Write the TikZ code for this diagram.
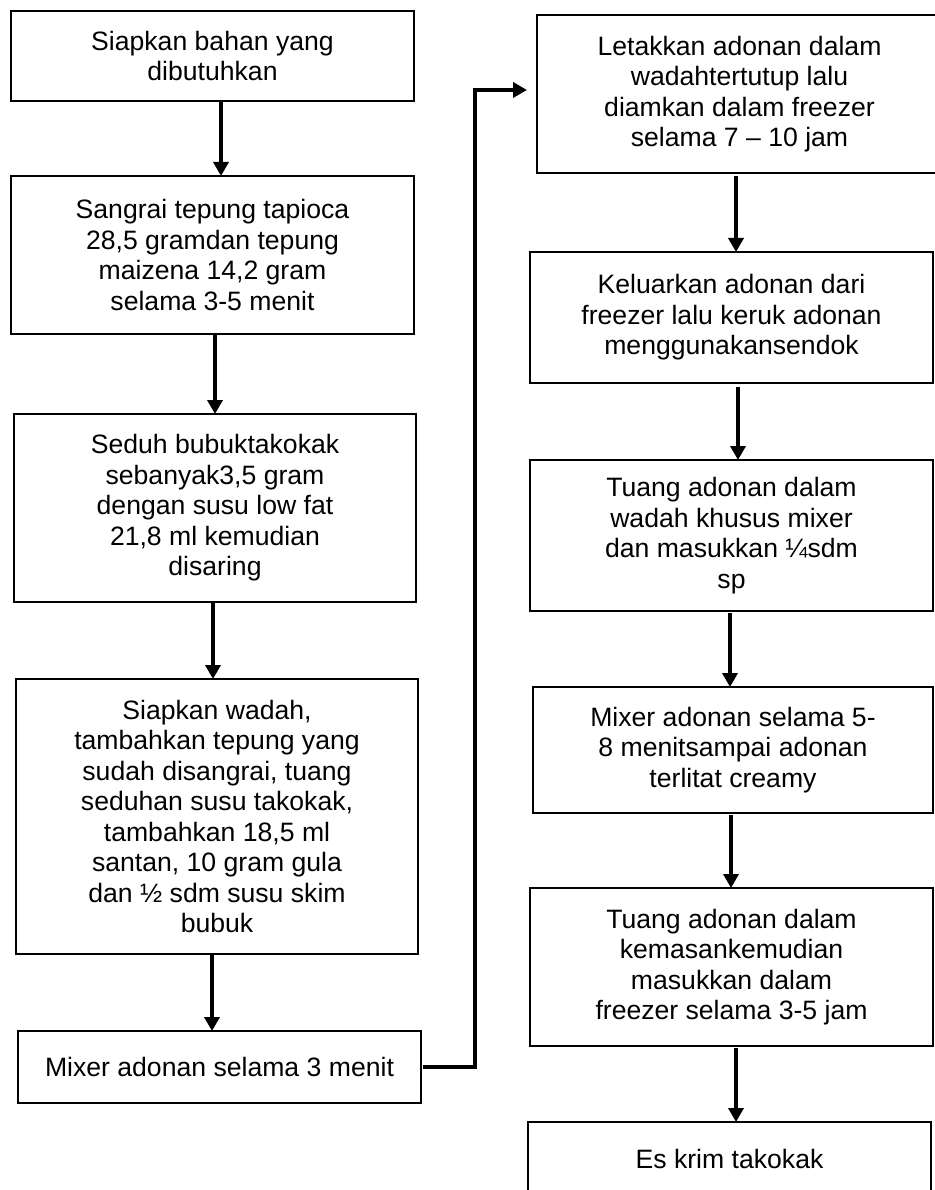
\documentclass[tikz,border=0pt]{standalone}
\usepackage{fontspec}
\setmainfont{Liberation Sans}
\usetikzlibrary{arrows.meta}
\begin{document}
\begin{tikzpicture}[x=1pt,y=-1pt,
  box/.style={draw=black, line width=2.2pt, inner sep=0pt, outer sep=0pt, align=center,
    font=\fontsize{26.6}{30.5}\selectfont},
  arr/.style={line width=4pt, line join=miter, -{Triangle[width=15pt,length=14pt]}}]
\useasboundingbox (0,0) rectangle (934,1190);
\fill[white] (0,0) rectangle (934,1190);
% left column
\node[box, minimum width=403pt, minimum height=90pt] (b1) at (212.5,56)
  {Siapkan bahan yang\\dibutuhkan};
\node[box, minimum width=403pt, minimum height=158pt] (b2) at (212.5,255)
  {Sangrai tepung tapioca\\28,5 gramdan tepung\\maizena 14,2 gram\\selama 3-5 menit};
\node[box, minimum width=402pt, minimum height=188pt] (b3) at (215,508)
  {Seduh bubuktakokak\\sebanyak3,5 gram\\dengan susu low fat\\21,8 ml kemudian\\disaring};
\node[box, minimum width=402pt, minimum height=275pt] (b4) at (217,816.5)
  {Siapkan wadah,\\tambahkan tepung yang\\sudah disangrai, tuang\\seduhan susu takokak,\\tambahkan 18,5 ml\\santan, 10 gram gula\\dan ½ sdm susu skim\\bubuk};
\node[box, minimum width=403pt, minimum height=72pt] (b5) at (219.5,1067)
  {Mixer adonan selama 3 menit};
% right column
\node[box, minimum width=405pt, minimum height=158pt] (r1) at (739.5,94)
  {Letakkan adonan dalam\\wadahtertutup lalu\\diamkan dalam freezer\\selama 7 – 10 jam};
\node[box, minimum width=403pt, minimum height=131pt] (r2) at (731.5,317.5)
  {Keluarkan adonan dari\\freezer lalu keruk adonan\\menggunakansendok};
\node[box, minimum width=403pt, minimum height=151pt] (r3) at (731.5,535.5)
  {Tuang adonan dalam\\wadah khusus mixer\\dan masukkan ¼sdm\\sp};
\node[box, minimum width=400pt, minimum height=126pt] (r4) at (733,750)
  {Mixer adonan selama 5-\\8 menitsampai adonan\\terlitat creamy};
\node[box, minimum width=403pt, minimum height=158pt] (r5) at (731.5,967)
  {Tuang adonan dalam\\kemasankemudian\\masukkan dalam\\freezer selama 3-5 jam};
\node[box, minimum width=403pt, minimum height=74pt] (r6) at (729.5,1159)
  {Es krim takokak};
% connectors left
\draw[arr] ([xshift=8.5pt]b1.south) -- ([xshift=8.5pt]b1.south |- b2.north);
\draw[arr] ([xshift=2.5pt]b2.south) -- ([xshift=2.5pt]b2.south |- b3.north);
\draw[arr] ([xshift=-2pt]b3.south) -- ([xshift=-2pt]b3.south |- b4.north);
\draw[arr] ([xshift=-5pt]b4.south) -- ([xshift=-5pt]b4.south |- b5.north);
% cross connector
\coordinate (jog) at (475,90);
\coordinate (tip) at (527,90);
\draw[arr] ([xshift=2pt]b5.east) -| (jog) -- (tip);
% connectors right
\draw[arr] ([xshift=-3.5pt,yshift=-3pt]r1.south) -- ([xshift=-3.5pt]r1.south |- r2.north);
\draw[arr] ([xshift=6.5pt,yshift=-4pt]r2.south) -- ([xshift=6.5pt]r2.south |- r3.north);
\draw[arr] ([xshift=-1.5pt,yshift=-2pt]r3.south) -- ([xshift=-1.5pt]r3.south |- r4.north);
\draw[arr] ([xshift=-2pt,yshift=-2pt]r4.south) -- ([xshift=-2pt]r4.south |- r5.north);
\draw[arr] ([xshift=4.5pt,yshift=-2pt]r5.south) -- ([xshift=4.5pt]r5.south |- r6.north);
\end{tikzpicture}
\end{document}
